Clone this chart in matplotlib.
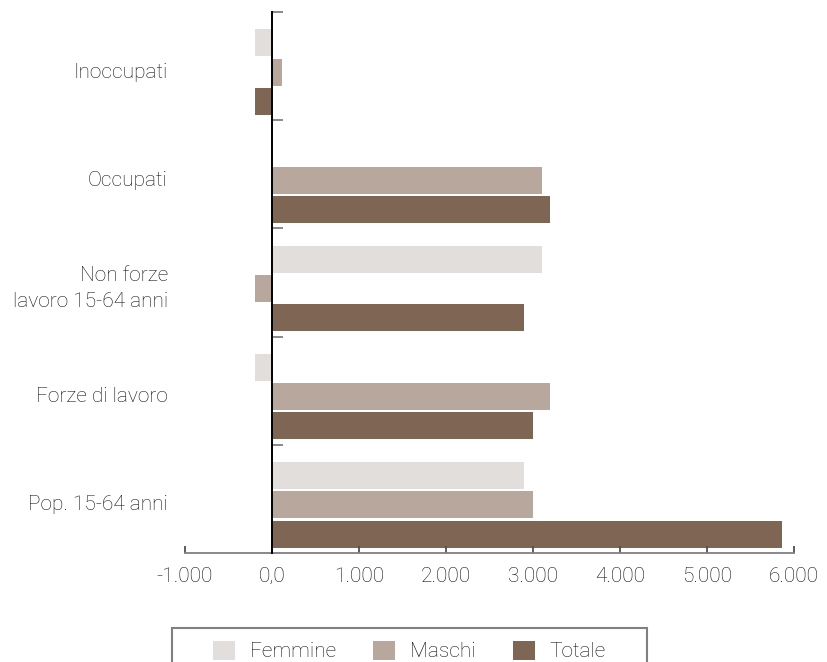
import matplotlib.pyplot as plt
from matplotlib.patches import Rectangle
from matplotlib.ticker import FuncFormatter

# valori in migliaia di unità, dal basso verso l'alto
categorie = ['Pop. 15-64 anni', 'Forze di lavoro', 'Non forze\nlavoro 15-64 anni', 'Occupati', 'Inoccupati']
femmine = [2900, -200, 3100, 0, -200]
maschi = [3000, 3200, -200, 3100, 120]
totale = [5860, 3000, 2900, 3200, -200]

col_f = '#e2dedb'
col_m = '#b8a79c'
col_t = '#7f6654'
col_testo = '#111111'

plt.rcParams['font.family'] = ['Roboto', 'DejaVu Sans']
plt.rcParams['font.weight'] = 'light'

fig = plt.figure(figsize=(8.28, 6.62), dpi=100)
ax = fig.add_axes([185 / 828, 1 - 553 / 662, 609 / 828, 541 / 662])

h = 0.25
passo = 0.27
off = 0.055
pos = [i - off for i in range(len(categorie))]

ax.barh([p + passo for p in pos], femmine, height=h, color=col_f, label='Femmine')
ax.barh(pos, maschi, height=h, color=col_m, label='Maschi')
ax.barh([p - passo for p in pos], totale, height=h, color=col_t, label='Totale')

ax.set_xlim(-1000, 6000)
ax.set_ylim(-0.5, len(categorie) - 0.5)
ax.set_xticks(range(-1000, 6001, 1000))
ax.xaxis.set_major_formatter(FuncFormatter(
    lambda v, p: '0,0' if v == 0 else f'{v:,.0f}'.replace(',', '.')))

# asse verticale sullo zero, tacche tra i gruppi
ax.spines['left'].set_position(('data', 0))
ax.spines['left'].set_color('black')
ax.spines['left'].set_linewidth(1.4)
ax.spines['left'].set_zorder(5)
ax.spines['right'].set_visible(False)
ax.spines['top'].set_visible(False)
ax.spines['bottom'].set_color('#808080')
ax.spines['bottom'].set_linewidth(1.3)
ax.set_yticks([i + 0.5 for i in range(len(categorie))])
ax.tick_params(axis='y', direction='in', length=8, width=1.3, color='#808080',
               labelleft=False)
ax.tick_params(axis='x', direction='in', length=5, width=1.3, color='#505050',
               labelsize=15, labelcolor=col_testo, pad=10)

for p, nome in zip(pos, categorie):
    ax.text(-0.028, p, nome, transform=ax.get_yaxis_transform(), ha='right',
            va='center', multialignment='right', fontsize=15, color=col_testo,
            linespacing=1.5)

# riquadro della legenda, tagliato dal bordo inferiore
fig.patches.append(Rectangle((172 / 828, -0.05), 475 / 828, 0.05 + 34 / 662,
                             transform=fig.transFigure, fill=False,
                             edgecolor='#808080', linewidth=1.5))
fig.legend(loc='center', bbox_to_anchor=(409.5 / 828, 1 - 651 / 662), ncol=3,
           frameon=False, fontsize=15, handlelength=1.05, handleheight=1.05,
           handletextpad=0.7, columnspacing=1.8, labelcolor=col_testo)

fig.savefig('out.png', dpi=100)
